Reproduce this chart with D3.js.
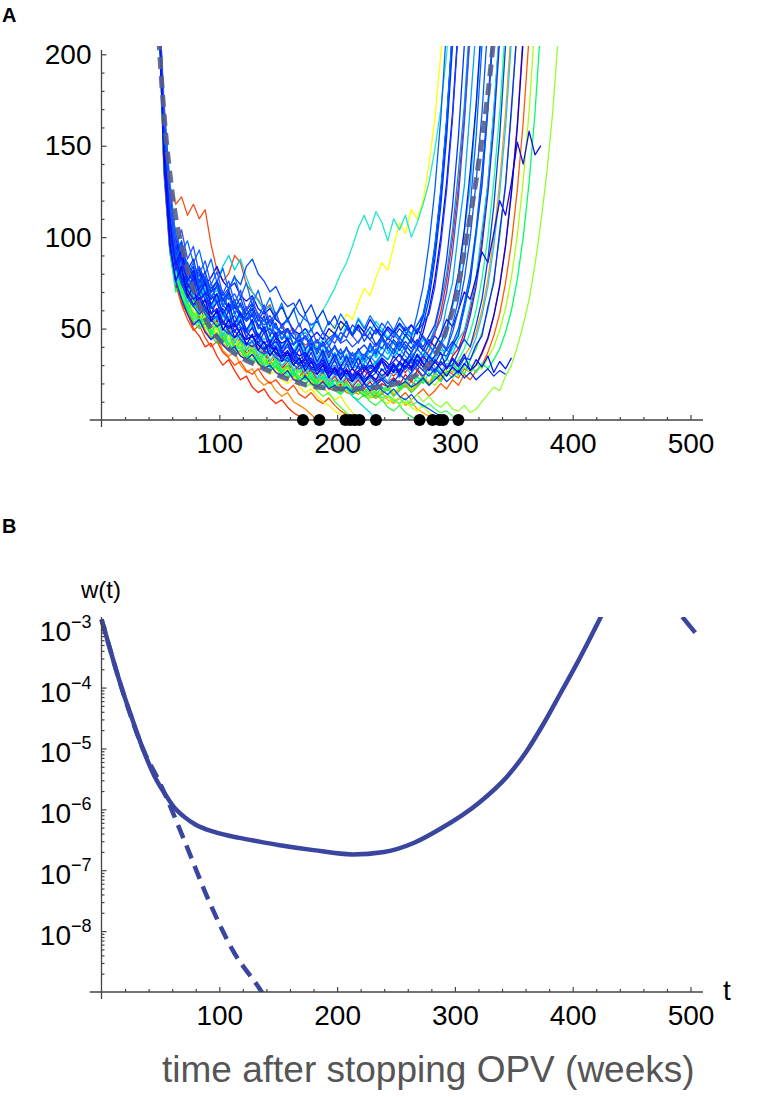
<!DOCTYPE html>
<html>
<head>
<meta charset="utf-8">
<title>Trajectories after stopping OPV</title>
<script src="https://cdn.jsdelivr.net/npm/d3@7"></script>
<style>
  body { margin: 0; background: #fff; }
  text { font-family: "Liberation Sans", Arial, Helvetica, sans-serif; }
  .panel-label { font-weight: bold; font-size: 20px; }
  .axis text { font-size: 28px; fill: #000; }
  .axis line { stroke: #444; stroke-width: 1.2; }
</style>
</head>
<body>
<script>
// ---- panel A: simulated trajectories, sampled every 5 weeks from week 48
var trajStart = 48, trajStep = 5;

var trajectories = [
  // warm colours (drawn first)
  [240,140,95,78,64,58,50,46,40,42,35,30,33,27,22,24,18,15,17,12,9,11,7,4,2,0],
  [240,150,100,82,70,62,55,58,49,44,46,38,35,37,30,26,28,22,19,21,16,13,15,10,8,6,3,0],
  [240,135,92,74,63,55,49,52,45,40,43,37,34,30,32,27,25,28,23,20,22,18,16,19,14,12,15,11,9,12,8,5,3,0],
  [240,150,104,88,76,70,64,60,63,56,52,55,48,45,47,41,38,40,36,33,35,30,28,31,26,24,27,22,20,23,19,17,20,16,14,17,13,12,15,11,9,12,8,10,6,4,2,0],
  [240,175,128,118,122,112,118,110,115,96,82,76,80,90,86,74,70,66,60,63,56,52,48,50,44,41,43,38,35,37,
   32,30,33,28,26,29,24,22,25,21,23,20,18,21,19,22,20,24,22,27,25,23,28,26,30,36,44,57,74,96,126,162,212,265],
  [240,144,99,81,70,63,57,60,53,49,52,45,42,44,39,36,38,34,31,33,29,27,30,25,24,27,22,21,24,20,
   22,19,21,25,22,27,24,20,23,27,24,28,26,30,27,33,38,47,59,76,99,128,166,214,270],
  [240,140,95,77,66,59,53,56,49,45,48,42,39,41,36,34,36,32,30,32,28,26,28,24,23,25,21,20,22,18,
   17,19,16,15,17,14,16,13,15,18,14,17,20,16,19,23,20,26,23,30,26,32,35,40,48,60,77,100,130,168,216,272],
  [240,139,94,76,65,58,52,55,48,44,47,41,38,40,35,33,35,31,28,30,26,25,27,23,21,24,20,19,21,17,
   16,18,15,14,16,13,12,14,11,13,10,12,15,11,14,17,13,16,20,17,22,19,25,22,27,30,37,46,58,75,97,126,163,210,265],
  [240,140,94,72,79,62,68,55,61,49,55,44,50,40,45,36,41,33,38,30,35,28,32,26,30,24,28,22,26,20,
   24,19,23,18,22,17,21,16,20,18,23,19,25,21,27,23,29,25,32,28,35,39,48,60,77,99,129,167,214,268],
  // yellows
  [240,145,105,85,72,66,60,54,57,50,47,43,45,39,36,33,35,30,28,25,27,22,20,23,18,15,17,13,10,8,5,3,0],
  [240,150,102,86,75,68,63,58,61,55,50,47,51,44,41,38,40,35,32,34,29,26,28,24,21,23,19,16,18,14,11,13,8,4,0],
  [240,142,98,80,70,63,57,60,54,50,53,47,44,46,41,39,42,37,35,38,34,32,35,31,34,38,36,42,40,47,52,50,58,55,64,72,68,78,86,82,95,108,102,115,110,120,140,165,200,240],
  [240,140,96,80,70,63,57,60,53,49,52,46,42,44,39,36,38,33,31,34,29,27,30,25,23,26,22,20,24,19,17,21,16,14,18,13,12,15,11,9,12,8,10,7,5,8,4,2,0],
  [240,145,100,82,72,65,59,55,58,51,47,50,44,41,43,38,35,37,33,30,32,28,26,29,24,22,25,21,19,22,18,16,19,15,17,14,12,15,11,13,10,12,9,11,14,10,13,9,7,10,6,5,8,4,6,10,14,18,16,24,30,40,52,66,85,108,135,168,212],
  [240,141,97,79,68,61,55,58,51,47,50,44,41,43,38,35,37,33,30,32,28,26,29,24,23,26,21,20,23,19,
   18,21,17,16,19,15,17,14,16,19,15,18,21,17,20,24,21,19,23,27,27,24,29,26,31,28,34,40,49,61,78,101,131,169,218,272],
  // greens
  [240,155,110,92,80,73,68,62,65,58,52,55,48,44,46,40,37,39,33,30,32,27,24,26,21,18,20,16,13,15,10,7,4,0],
  [240,145,100,83,71,64,58,53,56,49,45,48,42,38,40,35,32,34,30,27,29,25,23,26,22,20,23,19,17,20,16,14,17,13,11,14,10,8,11,7,5,8,4,2,0],
  [240,148,103,86,75,68,62,65,58,54,57,50,47,49,44,41,43,38,35,37,33,30,32,28,26,29,24,22,25,21,19,22,18,16,19,15,13,16,12,14,11,9,12,8,10,7,9,6,4,5,2,0],
  [240,140,96,78,67,60,54,50,53,46,42,45,39,36,38,33,31,34,29,27,30,25,23,26,21,20,23,18,17,20,
   16,15,18,14,16,13,15,12,14,17,13,16,19,15,18,22,19,24,21,26,23,28,25,33,39,48,60,77,100,130,168,217,270],
  [240,143,98,80,69,62,56,52,55,48,44,47,41,38,40,35,33,35,31,29,31,27,25,27,23,22,24,20,19,21,
   18,17,19,16,18,15,17,20,16,19,22,18,21,25,21,24,28,25,30,34,29,33,39,48,60,77,100,130,168,217,270],
  [240,138,92,70,77,60,66,53,59,47,53,42,48,38,43,34,39,31,36,28,33,26,30,24,28,22,26,20,24,18,
   22,17,21,16,20,15,19,14,18,16,21,17,22,18,24,20,26,22,28,24,31,27,34,30,26,31,28,33,39,48,60,77,100,130,168,217,270],
  // cyans
  [240,160,115,95,85,78,72,75,68,63,66,59,55,57,51,48,45,47,42,38,40,35,33,36,30,27,29,25,22,24,19,16,18,13,10,7,4,0],
  [240,158,115,96,86,80,76,79,72,68,71,65,61,64,58,55,57,52,49,51,47,44,46,42,45,50,48,55,60,66,72,80,86,95,105,112,104,114,108,98,110,104,112,100,108,118,130,148,170,200,240],
  [240,152,108,90,80,74,69,72,66,70,76,84,90,82,88,78,70,65,60,62,56,52,54,49,46,48,43,40,42,38,
   35,37,33,31,34,30,28,31,27,29,26,30,28,33,31,36,34,40,38,38,36,44,49,63,78,104,129,170,214,268],
  [240,154,111,93,83,76,71,74,67,63,66,60,56,59,53,50,52,47,44,46,42,39,41,37,35,38,33,31,34,30,
   32,29,31,28,30,33,29,32,36,33,38,35,41,37,34,38,35,33,41,46,62,75,103,128,171,215,270],
  [240,155,108,84,92,75,81,68,74,62,68,57,63,53,58,49,54,46,51,43,48,40,45,38,43,36,41,34,39,32,
   37,31,36,30,35,32,38,34,40,36,43,39,46,42,38,44,40,36,41,33,39,48,60,77,100,130,168,217,270],
  [240,150,106,80,88,72,79,66,72,61,67,56,62,52,57,48,53,45,50,42,47,39,44,37,42,35,40,38,45,41,
   48,44,52,47,56,51,48,54,50,45,49,44,50,46,49,55,70,92,122,162,212,265],
  [240,142,96,74,81,64,70,57,63,51,57,46,52,42,47,38,43,35,40,32,37,29,34,27,31,25,29,23,27,21,
   25,20,24,19,23,18,22,20,25,21,27,23,29,25,31,27,34,29,26,31,28,25,30,37,45,57,73,95,124,160,208,262],
  [240,150,107,89,79,72,67,63,66,59,55,58,52,49,51,46,43,45,40,38,41,36,34,36,32,30,33,29,31,28,
   30,27,29,32,28,31,35,31,36,33,39,35,31,36,32,35,42,50,64,80,104,136,172,222,275],
  [240,160,112,86,95,78,84,70,76,63,69,57,64,52,59,48,55,44,51,41,47,38,44,35,41,33,39,31,37,29,
   35,28,34,30,37,32,40,35,44,38,34,39,35,31,36,32,33,41,46,62,75,103,128,171,215,270],
  // blues (drawn last)
  [240,155,108,90,80,74,69,72,66,61,64,58,54,57,51,48,50,45,42,44,39,37,40,35,33,36,31,29,32,27,25,28,23,21,24,20,18,21,16,14,17,13,11,14,10,8,6,4,2,0],
  [240,160,118,98,88,80,76,82,74,70,73,66,62,65,58,55,58,52,48,50,45,42,44,38,35,37,32,30,33,28,
   26,29,25,28,24,27,30,28,33,29,26,31,28,33,39,48,60,77,100,130,168,217,270],
  [240,138,94,76,66,58,52,55,48,44,47,41,38,40,35,33,36,31,28,30,26,24,27,22,21,24,20,18,21,17,
   19,16,18,15,17,20,16,19,22,18,21,25,22,26,30,27,24,28,25,29,30,37,45,57,73,95,124,160,208,262],
  [240,165,122,102,92,86,80,84,76,72,76,70,66,69,62,58,61,55,52,55,50,47,50,45,43,46,41,44,40,43,
   47,44,50,46,52,48,44,49,45,50,47,52,48,45,58,73,96,126,165,215,268],
  [240,150,106,88,78,71,66,69,62,58,61,54,51,53,47,44,46,41,38,41,36,34,37,32,30,33,28,27,30,25,
   28,24,27,23,26,29,25,30,34,31,27,32,29,34,30,35,31,35,42,50,64,80,104,136,172,222,275],
  [240,162,120,100,90,84,79,83,76,72,75,68,72,78,74,84,88,80,76,70,73,66,62,64,58,55,52,54,48,45,
   47,42,44,40,43,47,44,50,48,44,49,45,51,47,52,57,72,94,124,163,213,266],
  [240,155,110,92,81,75,70,66,69,62,58,61,55,51,54,48,45,47,42,40,43,38,35,37,33,31,34,29,27,30,26,24,27,23,25,22,24,21,23,20,22,19,21,18,20,23,19,22,25,21,24,27,23,26,22,25,28,24,27,25],
  [240,148,104,86,76,69,63,67,60,56,59,53,50,52,47,44,46,41,39,42,37,35,38,33,31,34,29,28,31,26,29,25,28,24,27,30,26,29,33,29,32,36,32,37,42,38,44,40,47,55,51,60,70,66,78,92,86,102,120,112,130,152,140,158,145,150],
  [240,158,116,97,87,81,76,72,75,68,64,67,60,63,57,54,57,51,48,50,45,48,43,41,44,39,42,38,41,45,
   42,48,45,52,49,46,51,47,53,49,45,50,46,52,48,53,58,73,96,126,165,215,268],
  [240,146,102,84,74,67,62,58,61,55,51,54,48,45,47,42,40,43,38,36,39,34,32,35,30,29,32,27,26,29,
   25,24,27,23,26,22,25,28,24,27,31,27,32,29,35,31,28,33,30,33,41,46,62,75,103,128,171,215,270],
  [240,160,118,99,89,83,78,81,74,78,84,76,72,75,68,65,68,61,58,61,55,52,55,49,47,50,45,48,44,50,
   47,54,51,47,52,48,55,50,46,51,48,53,49,52,47,57,72,94,124,163,213,266],
  [240,156,113,95,85,78,73,77,70,66,69,63,59,62,56,60,64,58,54,57,51,48,50,45,43,46,41,39,42,37,
   40,36,39,35,38,41,37,42,39,45,42,38,43,39,44,40,46,52,66,88,117,155,205,260],
  [240,147,103,85,75,68,62,65,58,54,57,50,47,49,44,41,43,38,36,38,34,32,34,30,28,30,27,25,28,24,
   26,23,25,22,24,21,23,26,22,25,29,25,28,32,28,24,29,26,33,39,48,60,77,100,130,168,217,270],
  [240,170,125,96,88,79,84,72,78,66,74,62,70,58,64,55,61,50,57,46,53,44,50,41,47,38,45,36,43,34,
   41,33,40,31,39,33,42,36,46,40,36,43,38,45,41,52,66,88,117,155,205,260],
  [240,165,118,90,80,86,74,80,69,75,64,70,60,66,56,62,52,58,49,55,46,52,43,49,40,46,38,44,35,41,
   33,39,31,37,30,36,33,39,35,42,38,45,41,37,43,39,35,40,36,35,42,50,64,80,104,136,172,222,275],
  [240,150,104,82,90,72,78,64,70,58,65,52,60,48,55,45,51,42,48,39,45,36,42,33,39,30,37,28,35,27,
   33,25,31,24,30,23,29,26,33,28,35,31,38,34,30,35,31,27,32,28,33,29,34,33,41,46,62,75,103,128,171,215,270],
  [240,172,130,100,92,98,86,93,80,88,75,83,71,79,67,75,63,71,60,67,57,64,54,61,51,58,49,56,47,54,
   50,58,53,47,55,50,57,52,48,54,49,56,51,47,52,58,73,96,126,165,215,268],
  [240,145,98,76,84,67,73,60,66,54,60,49,55,45,50,41,47,38,43,35,40,32,37,30,34,27,32,25,30,23,
   28,22,27,21,26,20,25,22,28,24,30,26,33,28,36,31,27,32,28,24,29,26,31,27,30,37,45,57,73,95,124,160,208,262],
  [240,168,122,95,104,88,95,80,87,74,81,69,76,64,71,60,67,56,63,53,59,50,56,47,53,44,50,42,48,40,
   46,43,50,46,42,48,44,40,45,41,47,43,39,44,40,46,42,48,55,70,92,122,162,212,265],
  [240,158,114,90,98,82,88,75,81,70,76,65,71,61,67,57,63,54,60,51,57,62,55,60,66,58,63,55,60,52,
   57,49,54,46,51,43,48,41,46,39,44,40,47,42,50,45,41,46,42,38,43,39,44,40,52,66,88,117,155,205,260],
  [240,162,116,88,96,80,86,73,79,67,73,62,68,58,63,54,59,50,55,47,52,44,49,41,46,39,44,37,42,35,
   40,34,39,33,38,35,41,37,44,40,36,42,38,34,39,35,41,37,43,39,52,66,88,117,155,205,260],
  [240,152,110,85,93,76,82,69,75,63,69,58,64,53,59,49,55,45,51,42,48,39,45,36,42,34,40,32,38,30,36,29,35,28,34,27,33,26,32,25,31,24,30,27,33,29,35,31,37,28,34,30,36,27,33,29,35,26,32,28,34]
];

var trajColors = [
  "#ff2a00", "#ff8800", "#ff4800", "#ffa000", "#f0501e", "#ff1e00", "#ff9a00", "#ff5a00", "#ff0000",
  "#ffee00", "#e8f000", "#ffff00", "#c8ff00", "#90ff30", "#a8ff10",
  "#50ff40", "#30f050", "#40ff70", "#20e840", "#10ff90", "#00ff60",
  "#00e0d8", "#20e8c8", "#00d0e8", "#00c0ff", "#00c8f0", "#00e0ff", "#20c0ff", "#0090ff", "#00a8ff",
  "#0050ff", "#0000ff", "#1030ff", "#0060ff", "#0020e0", "#0048ff", "#0030f0",
  "#1010e0", "#1a3cff", "#0044ee", "#0010ff", "#0038ff", "#0058ff",
  "#0030ff", "#0a50ff", "#2020ff", "#0070ff", "#0000f0", "#3050ff", "#0040e8", "#1060ff", "#0018ff"
];

// weeks at which trajectories went extinct
var extinctionTimes = [171, 185, 207, 211, 215, 219, 233, 270, 281, 287, 290, 303];

// mean trajectory (dashed)
var meanTimes  = [46, 50, 54, 58, 62, 70, 81, 95, 110, 135, 160, 183, 210, 235, 255, 270, 280, 292, 300, 310, 320, 330, 336];
var meanValues = [240, 195, 160, 135, 115, 90, 66, 48, 38, 29, 22, 18, 17, 18, 21, 26, 32, 48, 65, 100, 140, 190, 230];

var xTicks = [100, 200, 300, 400, 500];
var yTicksA = [50, 100, 150, 200];

// ---- panel B: w(t) on a log scale
var wTimes = [0, 10, 17, 25, 35, 45, 55, 61, 70, 80, 95, 117, 134, 150, 180, 213, 240, 265, 287, 320, 344, 360, 375, 390, 405, 425];
var wSolid = [1.32e-3, 2.8e-4, 1.0e-4, 3.5e-5, 1.0e-5, 3.5e-6, 1.66e-6, 1.12e-6, 7.6e-7, 5.6e-7, 4.3e-7, 3.4e-7, 2.95e-7,
              2.6e-7, 2.14e-7, 1.82e-7, 2.0e-7, 2.8e-7, 4.7e-7, 1.26e-6, 3.4e-6, 8.5e-6, 2.5e-5, 8.3e-5, 2.8e-4, 1.6e-3];
var wDashTimes = [0, 17, 35, 50, 70, 91, 111, 136, 140];
var wDash      = [1.32e-3, 1.0e-4, 1.0e-5, 2.6e-6, 3.2e-7, 3.2e-8, 5.0e-9, 1.0e-9, 7.5e-10];
var wDashRightTimes = [493, 504];
var wDashRight      = [1.45e-3, 8.0e-4];
var yTicksB = [1e-8, 1e-7, 1e-6, 1e-5, 1e-4, 1e-3];

// ---- layout
var W = 776, H = 1097;
var svg = d3.select("body").append("svg")
    .attr("width", W)
    .attr("height", H);

var x = d3.scaleLinear().domain([0, 500]).range([101.5, 690.5]);
var yA = d3.scaleLinear().domain([0, 200]).range([420, 54.3]);
var yB = d3.scaleLog().domain([1e-9, 1e-3]).range([992, 626.7]);

svg.append("defs").append("clipPath").attr("id", "clipA")
  .append("rect").attr("x", 95).attr("y", 46).attr("width", 620).attr("height", 378);
svg.select("defs").append("clipPath").attr("id", "clipB")
  .append("rect").attr("x", 95).attr("y", 617).attr("width", 620).attr("height", 375);

svg.append("text").attr("class", "panel-label").attr("x", 2).attr("y", 22).text("A");
svg.append("text").attr("class", "panel-label").attr("x", 2).attr("y", 533).text("B");

// ---------------- panel A
var gA = svg.append("g");

var trajLine = d3.line()
    .x(function (v, i) { return x(trajStart + i * trajStep); })
    .y(function (v) { return yA(v); });

gA.append("g").attr("clip-path", "url(#clipA)")
  .selectAll("path")
  .data(trajectories)
  .enter()
  .append("path")
  .attr("d", trajLine)
  .attr("fill", "none")
  .attr("stroke", function (d, i) { return trajColors[i]; })
  .attr("stroke-width", 1.3)
  .attr("stroke-linejoin", "round");

var meanLine = d3.line()
    .x(function (d) { return x(d[0]); })
    .y(function (d) { return yA(d[1]); })
    .curve(d3.curveMonotoneX);

gA.append("path")
  .attr("clip-path", "url(#clipA)")
  .datum(d3.zip(meanTimes, meanValues))
  .attr("d", meanLine)
  .attr("fill", "none")
  .attr("stroke", "#575e8e")
  .attr("stroke-opacity", 0.9)
  .attr("stroke-width", 5)
  .attr("stroke-dasharray", "12,7");

// axes A
gA.append("line").attr("x1", x(-10)).attr("x2", 703).attr("y1", yA(0)).attr("y2", yA(0))
  .attr("stroke", "#444").attr("stroke-width", 1.3);
gA.append("line").attr("x1", x(0)).attr("x2", x(0)).attr("y1", yA(0) + 7).attr("y2", 50)
  .attr("stroke", "#444").attr("stroke-width", 1.3);

var xMinor = d3.range(20, 520, 20).filter(function (v) { return v % 100 !== 0; });

gA.append("g").attr("class", "axis")
  .attr("transform", "translate(0," + yA(0) + ")")
  .call(d3.axisBottom(x).tickValues(xMinor).tickSize(-3).tickFormat(""))
  .call(function (g) { g.select(".domain").remove(); });
gA.append("g").attr("class", "axis")
  .attr("transform", "translate(0," + yA(0) + ")")
  .call(d3.axisBottom(x).tickValues(xTicks).tickSize(-5).tickPadding(13))
  .call(function (g) { g.select(".domain").remove(); });

var yMinorA = d3.range(10, 210, 10).filter(function (v) { return v % 50 !== 0; });
gA.append("g").attr("class", "axis")
  .attr("transform", "translate(" + x(0) + ",0)")
  .call(d3.axisLeft(yA).tickValues(yMinorA).tickSize(-3).tickFormat(""))
  .call(function (g) { g.select(".domain").remove(); });
gA.append("g").attr("class", "axis")
  .attr("transform", "translate(" + x(0) + ",0)")
  .call(d3.axisLeft(yA).tickValues(yTicksA).tickSize(-5).tickPadding(10))
  .call(function (g) { g.select(".domain").remove(); });

gA.append("g").selectAll("circle")
  .data(extinctionTimes)
  .enter()
  .append("circle")
  .attr("cx", function (d) { return x(d); })
  .attr("cy", yA(0))
  .attr("r", 6)
  .attr("fill", "#000");

// ---------------- panel B
var gB = svg.append("g");

var wLine = d3.line()
    .x(function (d) { return x(d[0]); })
    .y(function (d) { return yB(d[1]); })
    .curve(d3.curveMonotoneX);

gB.append("g").attr("clip-path", "url(#clipB)")
  .selectAll("path")
  .data([
    { pts: d3.zip(wTimes, wSolid), dash: null },
    { pts: d3.zip(wDashTimes, wDash), dash: "14,8" },
    { pts: d3.zip(wDashRightTimes, wDashRight), dash: null }
  ])
  .enter()
  .append("path")
  .attr("d", function (d) { return wLine(d.pts); })
  .attr("fill", "none")
  .attr("stroke", "#3a45a0")
  .attr("stroke-width", 4.5)
  .attr("stroke-dasharray", function (d) { return d.dash; });

gB.append("line").attr("x1", x(-10)).attr("x2", 703).attr("y1", yB(1e-9)).attr("y2", yB(1e-9))
  .attr("stroke", "#444").attr("stroke-width", 1.3);
gB.append("line").attr("x1", x(0)).attr("x2", x(0)).attr("y1", yB(1e-9) + 7).attr("y2", 617)
  .attr("stroke", "#444").attr("stroke-width", 1.3);

gB.append("g").attr("class", "axis")
  .attr("transform", "translate(0," + yB(1e-9) + ")")
  .call(d3.axisBottom(x).tickValues(xMinor).tickSize(-3).tickFormat(""))
  .call(function (g) { g.select(".domain").remove(); });
gB.append("g").attr("class", "axis")
  .attr("transform", "translate(0," + yB(1e-9) + ")")
  .call(d3.axisBottom(x).tickValues(xTicks).tickSize(-5).tickPadding(13))
  .call(function (g) { g.select(".domain").remove(); });

var yMinorB = [];
d3.range(-9, -3).forEach(function (e) {
  [2, 3, 4, 5, 6, 7, 8, 9].forEach(function (k) { yMinorB.push(k * Math.pow(10, e)); });
});
gB.append("g").attr("class", "axis")
  .attr("transform", "translate(" + x(0) + ",0)")
  .call(d3.axisLeft(yB).tickValues(yMinorB).tickSize(-3).tickFormat(""))
  .call(function (g) { g.select(".domain").remove(); });
gB.append("g").attr("class", "axis")
  .attr("transform", "translate(" + x(0) + ",0)")
  .call(d3.axisLeft(yB).tickValues(yTicksB).tickSize(-5).tickPadding(10).tickFormat(""))
  .call(function (g) { g.select(".domain").remove(); })
  .call(function (g) {
    g.selectAll(".tick text").attr("dy", "0.48em").each(function (d) {
      var t = d3.select(this);
      t.append("tspan").text("10");
      t.append("tspan").attr("dy", "-13").style("font-size", "18px")
        .text("\u2212" + Math.round(-Math.log10(d)));
    });
  });

svg.append("text").attr("x", 101).attr("y", 598).attr("text-anchor", "middle")
  .style("font-size", "24px").text("w(t)");
svg.append("text").attr("x", 723).attr("y", 1000)
  .style("font-size", "28px").text("t");

svg.append("text").attr("x", 162).attr("y", 1082)
  .style("font-size", "37px").style("fill", "#555")
  .text("time after stopping OPV (weeks)");
</script>
</body>
</html>
